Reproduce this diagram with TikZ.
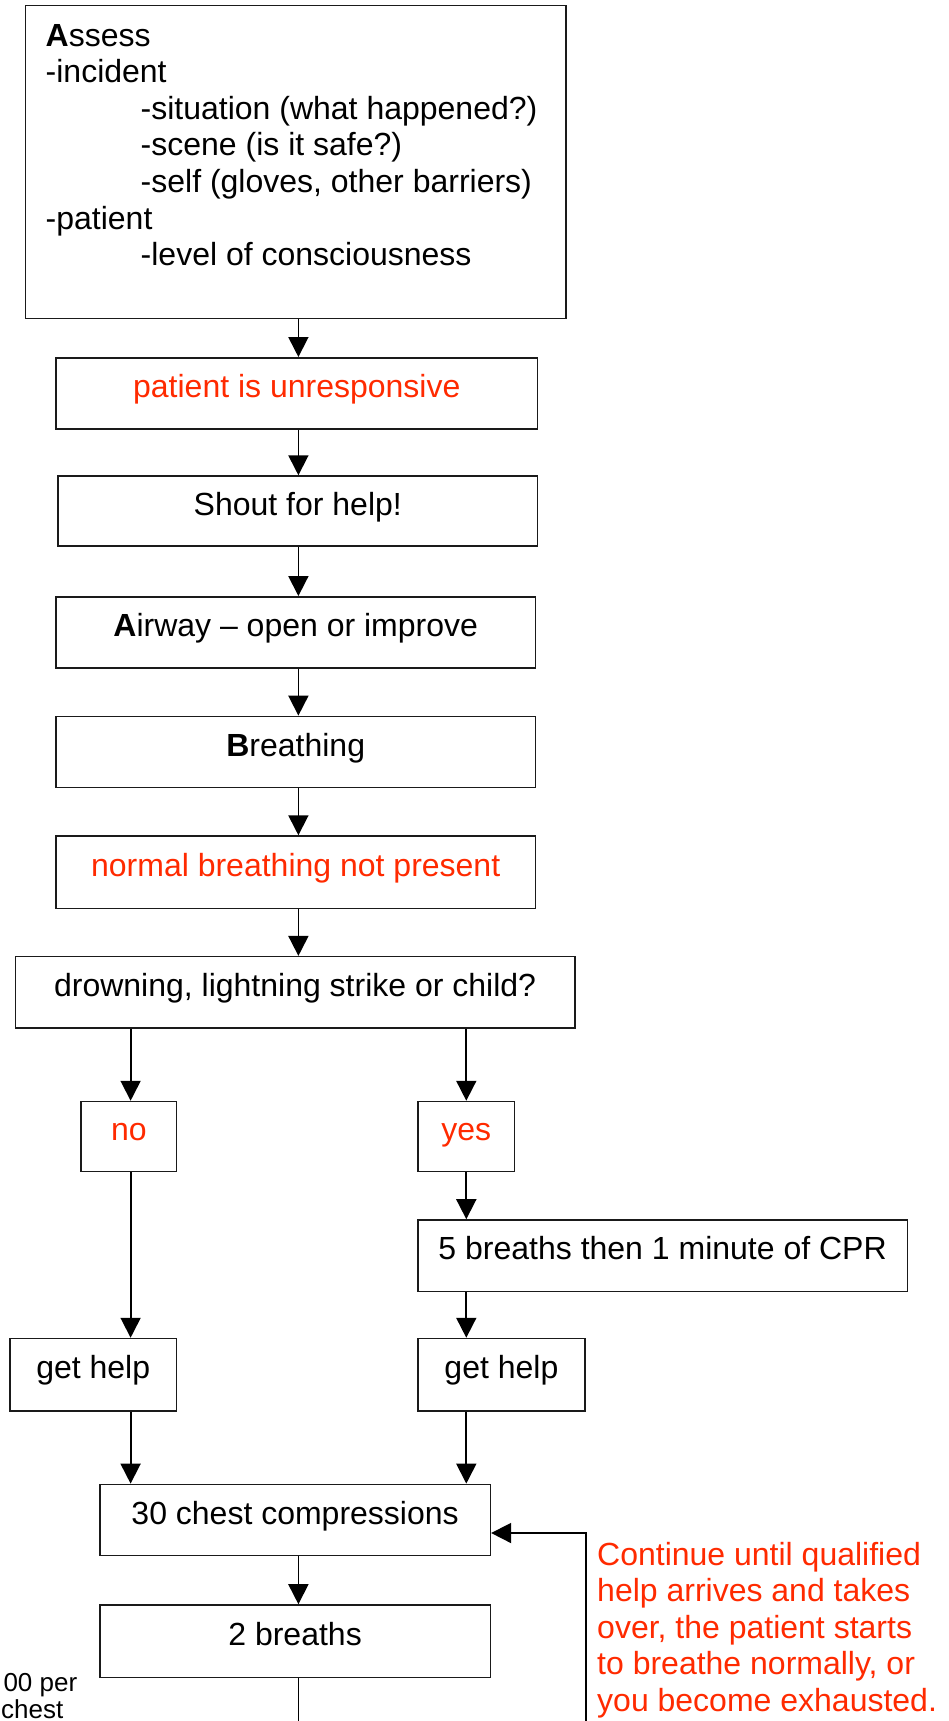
\documentclass[tikz,border=0pt]{standalone}
\usepackage{fontspec}
\setmainfont{Liberation Sans}
\usetikzlibrary{positioning, arrows.meta, calc}
\definecolor{cprRed}{HTML}{FF2A00}
\definecolor{cprLine}{HTML}{1A1A1A}

\begin{document}
\begin{tikzpicture}[x=1pt, y=-1pt,
    font=\fontsize{32}{36.6}\selectfont,
    stepbox/.style={
      rectangle, draw=cprLine, line width=1.5pt,
      inner sep=0pt, text height=17pt, text depth=9pt
    },
    alert/.style={text=cprRed},
    flow/.style={
      draw=black, line width=1.8pt,
      -{Triangle[length=20pt, width=20pt]}
    }
  ]
  \useasboundingbox (0,0) rectangle (949,1721);

  % Columns used by the connectors
  \coordinate (spine) at (298.4,0);
  \coordinate (nocol) at (130.6,0);
  \coordinate (yescol) at (466.3,0);
  \coordinate (spineend) at (298.4,1721);
  \coordinate (loopstart) at (585.9,1721);

  % Assessment box
  \node[stepbox, minimum width=540.9pt, minimum height=312.7pt]
    (assess) at (295.7,161.9) {};
  \node[anchor=north west, align=left, inner sep=0pt] (assesstext)
    at (45.5,23.8) {\textbf{A}ssess\\
      -incident\\
      \hspace*{95pt}-situation (what happened?)\\
      \hspace*{95pt}-scene (is it safe?)\\
      \hspace*{95pt}-self (gloves, other barriers)\\
      -patient\\
      \hspace*{95pt}-level of consciousness};

  % Main column
  \node[stepbox, alert, minimum width=481.6pt, minimum height=71.3pt]
    (unresp) at (296.8,393.4) {patient is unresponsive};
  \node[stepbox, minimum width=479.6pt, minimum height=70pt]
    (shout) at (297.8,511) {Shout for help!};
  \node[stepbox, minimum width=479.4pt, minimum height=71.2pt]
    (airway) at (295.7,632.4) {\textbf{A}irway -- open or improve};
  \node[stepbox, minimum width=479.4pt, minimum height=71.3pt]
    (breath) at (295.7,752) {\textbf{B}reathing};
  \node[stepbox, alert, minimum width=479.4pt, minimum height=72.4pt]
    (normal) at (295.7,872.2) {normal breathing not present};
  \node[stepbox, minimum width=559.5pt, minimum height=71.3pt]
    (drown) at (295.1,992.3) {drowning, lightning strike or child?};

  % Branches
  \node[stepbox, alert, minimum width=95.4pt, minimum height=70.2pt]
    (no) at (128.9,1136.6) {no};
  \node[stepbox, alert, minimum width=96.5pt, minimum height=70.2pt]
    (yes) at (466.2,1136.6) {yes};
  \node[stepbox, minimum width=489.3pt, minimum height=71.3pt]
    (five) at (662.6,1255.6) {5 breaths then 1 minute of CPR};
  \node[stepbox, minimum width=166.7pt, minimum height=72.4pt]
    (helpL) at (93.2,1374.7) {get help};
  \node[stepbox, minimum width=166.8pt, minimum height=72.4pt]
    (helpR) at (501.4,1374.7) {get help};

  % CPR cycle
  \node[stepbox, minimum width=390.6pt, minimum height=71.3pt]
    (chest) at (295.1,1520) {30 chest compressions};
  \node[stepbox, minimum width=390.6pt, minimum height=72.7pt]
    (breaths) at (295.1,1641.3) {2 breaths};

  % Side notes
  \node[anchor=north west, align=left, inner sep=0pt, text=cprRed]
    (note) at (597,1541.6) {Continue until qualified\\
      help arrives and takes\\
      over, the patient starts\\
      to breathe normally, or\\
      you become exhausted.};
  \node[anchor=north west, align=left, inner sep=0pt,
    font=\fontsize{26}{27}\selectfont]
    (rate) at (1,1672.8) {\hspace*{2.3pt}00 per\\chest};

  % Connectors
  \draw[flow] (assess.south -| spine) -- (unresp.north -| spine);
  \draw[flow] (unresp.south -| spine) -- (shout.north -| spine);
  \draw[flow] (shout.south -| spine) -- (airway.north -| spine);
  \draw[flow] (airway.south -| spine) -- (breath.north -| spine);
  \draw[flow] (breath.south -| spine) -- (normal.north -| spine);
  \draw[flow] (normal.south -| spine) -- (drown.north -| spine);
  \draw[flow] (drown.south -| nocol) -- (no.north -| nocol);
  \draw[flow] (drown.south -| yescol) -- (yes.north -| yescol);
  \draw[flow] (yes.south -| yescol) -- (five.north -| yescol);
  \draw[flow] (five.south -| yescol) -- (helpR.north -| yescol);
  \draw[flow] (no.south -| nocol) -- (helpL.north -| nocol);
  \draw[flow] (helpL.south -| nocol) -- (chest.north -| nocol);
  \draw[flow] (helpR.south -| yescol) -- (chest.north -| yescol);
  \draw[flow] (chest.south -| spine) -- (breaths.north -| spine);
  \draw[line width=1.8pt] (breaths.south -| spine) -- (spineend);
  \draw[flow] (loopstart) |- ($(chest.east)+(0,13)$);
\end{tikzpicture}
\end{document}
